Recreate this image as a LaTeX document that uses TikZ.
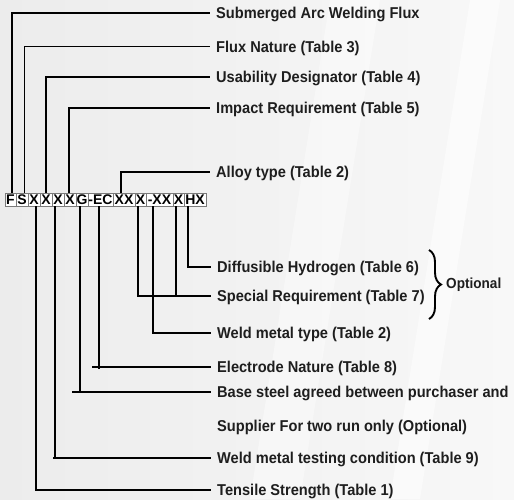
\documentclass[tikz,border=0pt]{standalone}
\usepackage{fontspec}
\setmainfont{Liberation Sans}
\newfontfamily\lblfont[FakeStretch=0.93]{Liberation Sans}
\usetikzlibrary{decorations.pathreplacing,calc}
\definecolor{txt}{HTML}{1E1E1E}
\definecolor{cellborder}{HTML}{7A7A7A}
\definecolor{bgA}{HTML}{ECECEC}
\definecolor{bgB}{HTML}{F8F8F8}
\begin{document}
\begin{tikzpicture}[x=1pt,y=-1pt,
  cell/.style={draw=cellborder, line width=0.8pt, fill=white, minimum height=13pt,
    inner sep=0pt, text height=10pt, text depth=0pt,
    font=\fontsize{14}{14}\selectfont\bfseries, text=black},
  lbl/.style={anchor=west, inner xsep=6pt, inner ysep=0pt, text height=11.2pt,
    text depth=0pt, font=\lblfont\fontsize{15.7}{17}\selectfont\bfseries, text=txt},
  conn/.style={line width=1.8pt, draw=black}]
\useasboundingbox (0,0) rectangle (514,499);
\shade[left color=bgA, right color=bgB] (0,0) rectangle (514,499);
\fill[white, opacity=0.5] (470,0) -- (500,0) -- (420,499) -- (390,499) -- cycle;
\fill[white, opacity=0.4] (330,0) -- (380,0) -- (300,499) -- (250,499) -- cycle;

% code cells
\node[cell, minimum width=11pt] (c1) at (10.5,199.5) {F};
\node[cell, minimum width=12pt] (c2) at (22,199.5) {S};
\node[cell, minimum width=12pt] (c3) at (34,199.5) {X};
\node[cell, minimum width=12pt] (c4) at (46,199.5) {X};
\node[cell, minimum width=12pt] (c5) at (58,199.5) {X};
\node[cell, minimum width=12pt] (c6) at (70,199.5) {X};
\node[cell, minimum width=12pt] (c7) at (82,199.5) {G};
\node[cell, minimum width=25pt] (c8) at (100.5,199.5) {-EC};
\node[cell, minimum width=22pt] (c9) at (124,199.5) {XX};
\node[cell, minimum width=11pt] (c10) at (140.5,199.5) {X};
\node[cell, minimum width=27pt] (c11) at (159.5,199.5) {-XX};
\node[cell, minimum width=11pt] (c12) at (178.5,199.5) {X};
\node[cell, minimum width=22pt] (c13) at (195,199.5) {HX};

% labels above
\node[lbl] (t1) at (210,13.3) {Submerged Arc Welding Flux};
\node[lbl] (t2) at (210,46.5) {Flux Nature (Table 3)};
\node[lbl] (t3) at (210,77.3) {Usability Designator (Table 4)};
\node[lbl] (t4) at (210,108.3) {Impact Requirement (Table 5)};
\node[lbl] (t5) at (210,171.7) {Alloy type (Table 2)};

% labels below
\node[lbl] (d1) at (211,267) {Diffusible Hydrogen (Table 6)};
\node[lbl] (d2) at (211,296) {Special Requirement (Table 7)};
\node[lbl] (d3) at (211,333) {Weld metal type (Table 2)};
\node[lbl] (d4) at (211,367) {Electrode Nature (Table 8)};
\node[lbl] (d5) at (211,392) {Base steel agreed between purchaser and};
\node[lbl] (d6) at (211,426) {Supplier For two run only (Optional)};
\node[lbl] (d7) at (211,458) {Weld metal testing condition (Table 9)};
\node[lbl] (d8) at (211,490) {Tensile Strength (Table 1)};

% connectors above
\draw[conn] ($(c1.north)+(1.5,0)$) |- (t1.west);
\draw[conn] ($(c2.north)+(2.5,0)$) |- (t2.west);
\draw[conn] (c4.north) |- (t3.west);
\draw[conn] ($(c6.north)+(-1.3,0)$) |- (t4.west);
\draw[conn] ($(c9.north)+(-3,0)$) |- (t5.west);

% connectors below
\draw[conn] ($(c13.south)+(-7,0)$) |- (d1.west);
\draw[conn] ($(c10.south)+(-2.5,0)$) |- (d2.west);
\draw[conn] ($(c12.south)+(-2.5,0)$) -- ($(c12.south |- d2.west)+(-2.5,0)$);
\draw[conn] ($(c11.south)+(-6.5,0)$) |- (d3.west);
\coordinate (o4) at (92,367);
\draw[conn] ($(c8.south)+(-1.5,0)$) -- ($(c8.south |- d4.west)+(-1.5,2)$);
\draw[conn] (o4) -- (d4.west);
\coordinate (o5) at (72,392);
\draw[conn] ($(c7.south)+(-2,0)$) -- ($(c7.south |- d5.west)+(-2,0)$);
\draw[conn] (o5) -- (d5.west);
\coordinate (o7) at (53,458);
\draw[conn] ($(c5.south)+(-3,0)$) -- ($(c5.south |- d7.west)+(-3,0)$);
\draw[conn] (o7) -- (d7.west);
\draw[conn] ($(c3.south)+(2,0)$) |- (d8.west);

% brace
\coordinate (bt) at (429,250);
\coordinate (bb) at (429,319);
\draw[line width=1.9pt, decorate, decoration={brace, amplitude=12pt}] (bt) -- (bb);
\node[lbl, inner xsep=0pt, font=\lblfont\fontsize{14.6}{16}\selectfont\bfseries] (opt) at (446,283) {Optional};
\end{tikzpicture}
\end{document}
